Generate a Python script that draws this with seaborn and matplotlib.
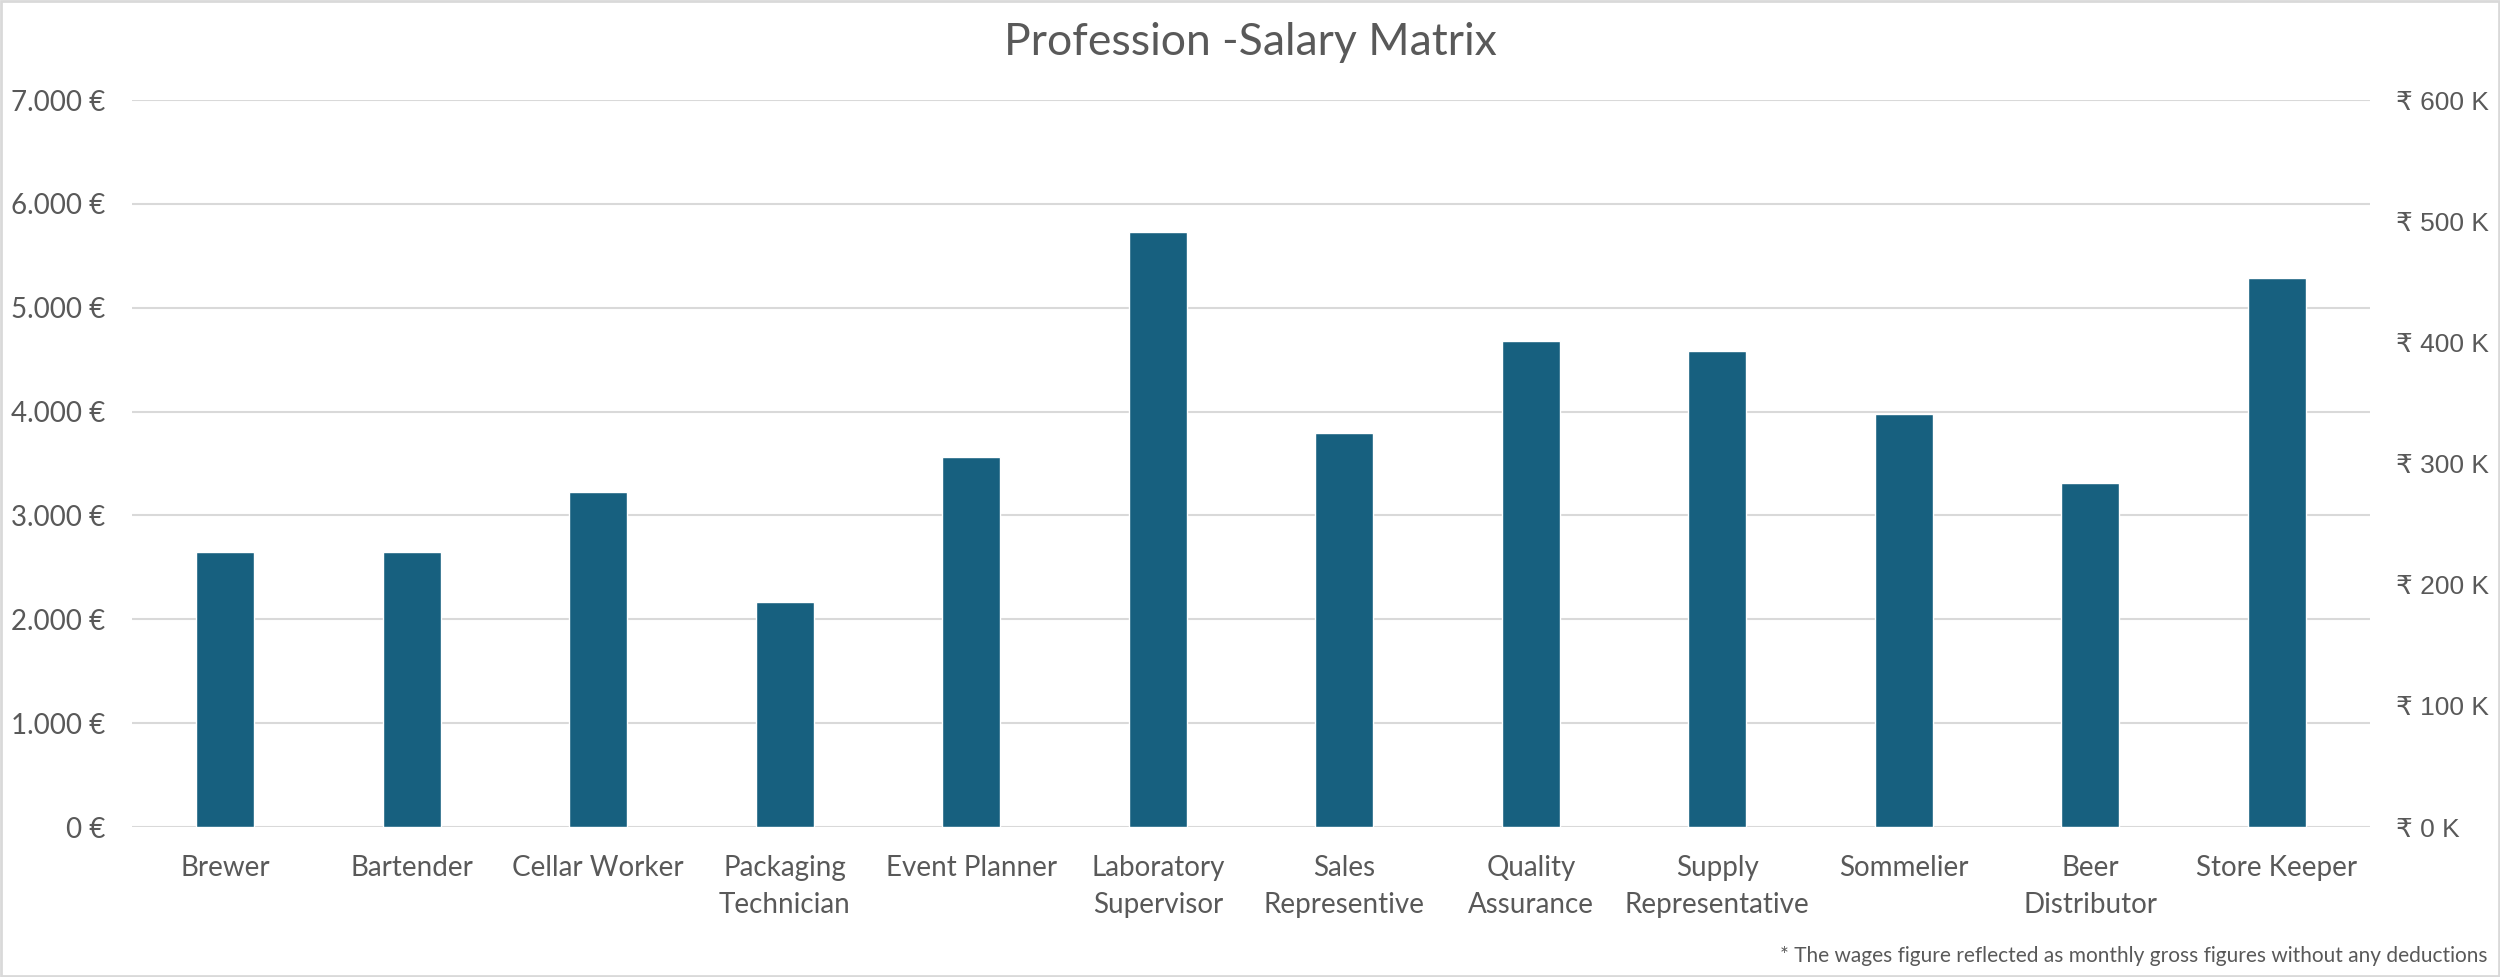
import matplotlib
matplotlib.use("Agg")
import matplotlib.pyplot as plt
import matplotlib.patches as mpatches
import seaborn as sns
import pandas as pd

# Chart data
professions = [
    "Brewer", "Bartender", "Cellar Worker", "Packaging\nTechnician",
    "Event Planner", "Laboratory\nSupervisor", "Sales\nRepresentive",
    "Quality\nAssurance", "Supply\nRepresentative", "Sommelier",
    "Beer\nDistributor", "Store Keeper",
]
salaries_eur = [2645, 2645, 3228, 2164, 3559, 5732, 3796, 4681, 4584, 3979, 3311, 5286]

eur_ticks = [0, 1000, 2000, 3000, 4000, 5000, 6000, 7000]
eur_labels = ["0 €", "1.000 €", "2.000 €", "3.000 €", "4.000 €", "5.000 €", "6.000 €", "7.000 €"]
inr_ticks = [0, 100, 200, 300, 400, 500, 600]
inr_labels = ["₹ 0 K", "₹ 100 K", "₹ 200 K", "₹ 300 K", "₹ 400 K", "₹ 500 K", "₹ 600 K"]

title = "Profession -Salary Matrix"
footnote = "* The wages figure reflected as monthly gross figures without any deductions"

BAR = "#17607F"
GRID = "#D9D9D9"
TEXT = "#595959"


def plot_salaries():
    sns.set_theme(style="white")
    narrow = ["Lato", "DejaVu Sans"]
    wide = ["Liberation Sans", "DejaVu Sans"]
    plt.rcParams["font.family"] = narrow

    df = pd.DataFrame({"Profession": professions, "Salary": salaries_eur})

    fig = plt.figure(figsize=(25, 9.77), dpi=100)
    ax = fig.add_axes([0.0528, 0.1535, 0.8952, 0.7441])

    sns.barplot(data=df, x="Profession", y="Salary", color=BAR,
                saturation=1, width=0.31, ax=ax, zorder=3)

    ax.set_xlim(-0.5, len(professions) - 0.5)
    ax.set_ylim(0, 7000)
    ax.set_yticks(eur_ticks)
    ax.set_yticklabels(eur_labels, fontsize=20, color=TEXT)
    ax.tick_params(axis="y", length=0, pad=19)
    ax.tick_params(axis="x", length=0, pad=20, labelsize=20, labelcolor=TEXT)
    for lbl in ax.get_xticklabels():
        lbl.set_linespacing(1.55)
    ax.set_xlabel("")
    ax.set_ylabel("")
    ax.grid(axis="y", color=GRID, linewidth=1.5, zorder=0)
    ax.grid(axis="x", visible=False)
    for s in ax.spines.values():
        s.set_visible(False)

    ax2 = ax.twinx()
    ax2.set_ylim(0, 600)
    ax2.set_yticks(inr_ticks)
    ax2.set_yticklabels(inr_labels, fontsize=19, color=TEXT, family=wide)
    ax2.tick_params(axis="y", length=0, pad=19)
    ax2.grid(False)
    for s in ax2.spines.values():
        s.set_visible(False)

    fig.text(0.5, 0.956, title, ha="center", va="center", fontsize=32, color=TEXT)
    fig.text(0.995, 0.022, footnote, ha="right", va="center", fontsize=15, color=TEXT)

    # light frame around the chart area
    fig.patches.append(mpatches.Rectangle((0.0005, 0.001), 0.999, 0.998,
                                          transform=fig.transFigure, fill=False,
                                          edgecolor=GRID, linewidth=2))

    fig.savefig("out.png", dpi=100, facecolor="white")


if __name__ == "__main__":
    plot_salaries()
